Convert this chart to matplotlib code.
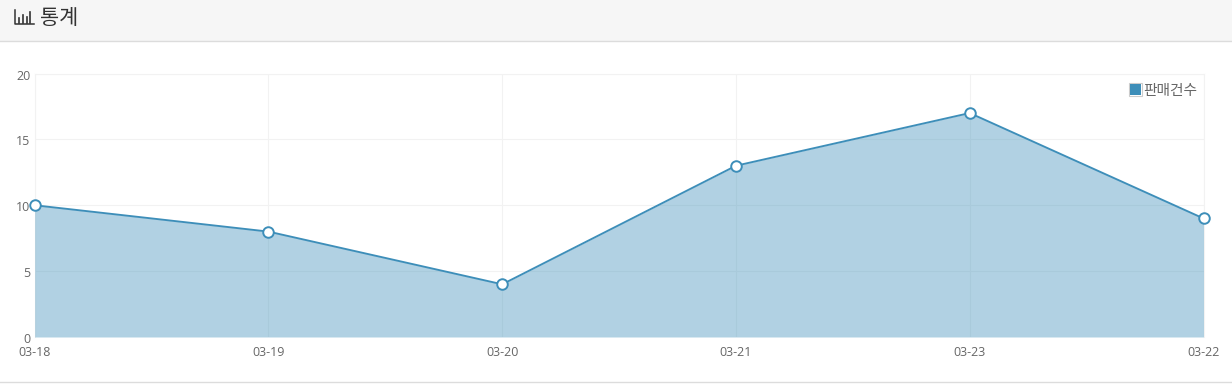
import matplotlib
matplotlib.use("Agg")
import matplotlib.pyplot as plt
from matplotlib.patches import Rectangle
from matplotlib.lines import Line2D
from matplotlib.transforms import ScaledTranslation

plt.rcParams['font.family'] = ['Noto Sans CJK KR', 'DejaVu Sans']

dates = ['03-18', '03-19', '03-20', '03-21', '03-23', '03-22']
sales = [10, 8, 4, 13, 17, 9]
y_ticks = [0, 5, 10, 15, 20]
title = '통계'
legend_label = '판매건수'

W, H = 1232, 384
line_color = '#3d8eb9'
text_color = '#666666'

fig = plt.figure(figsize=(W / 100, H / 100), dpi=100, facecolor='white')


# pixel -> figure fraction
def fx(px):
    return px / W


def fy(py):
    return 1 - py / H


# header band
fig.add_artist(Rectangle((0, fy(41)), 1, 41 / H, transform=fig.transFigure, fc='#f6f6f6', ec='none'))
fig.add_artist(Line2D([0, 1], [fy(41), fy(41)], color='#dcdcdc', lw=1))
fig.add_artist(Line2D([0, 1], [fy(382), fy(382)], color='#dcdcdc', lw=1))

# bar chart icon
fig.add_artist(Line2D([fx(14.5), fx(14.5), fx(34)], [fy(10), fy(24), fy(24)], color='#333333', lw=1.1))
for px, top in zip([19, 23, 26.5, 30], [18, 15, 17, 11.5]):
    fig.add_artist(Line2D([fx(px), fx(px)], [fy(22.5), fy(top)], color='#333333', lw=1.2))

fig.text(fx(40), fy(18.5), title, fontsize=15, color='#333333', ha='left', va='center')

# chart area
ax = fig.add_axes([fx(34.7), fy(337), (1203.5 - 34.7) / W, (337 - 73.5) / H])
x = list(range(len(dates)))
ax.fill_between(x, sales, 0, color=line_color, alpha=0.4, lw=0, zorder=3)
ax.plot(x, sales, color=line_color, lw=1.35, zorder=4, clip_on=False)
ax.plot(x, sales, ls='none', marker='o', ms=7.6, mfc='white', mec=line_color, mew=1.4, zorder=5, clip_on=False)

ax.set_xlim(0, len(dates) - 1)
ax.set_ylim(0, 20)
ax.set_xticks(x)
ax.set_xticklabels(dates)
ax.set_yticks(y_ticks)
ax.grid(True, color='#f2f2f2', lw=0.8, zorder=1)
ax.set_axisbelow(True)
ax.tick_params(length=0, labelsize=9, labelcolor=text_color)
ax.tick_params(axis='x', pad=6.5)
ax.tick_params(axis='y', pad=3)
for s in ax.spines.values():
    s.set_color('#f2f2f2')
    s.set_linewidth(0.8)
ax.spines['bottom'].set_visible(False)
for lab in ax.get_xticklabels() + ax.get_yticklabels():
    lab.set_family('Open Sans')
# y labels sit a little under their grid lines in the original
for lab in ax.get_yticklabels():
    lab.set_transform(lab.get_transform() + ScaledTranslation(0, -0.01, fig.dpi_scale_trans))

# legend
fig.add_artist(Rectangle((fx(1128.5), fy(96)), 13 / W, 13.5 / H, transform=fig.transFigure,
                         fc='white', ec='#cccccc', lw=0.8))
fig.add_artist(Rectangle((fx(1130), fy(94.5)), 10.5 / W, 10.5 / H, transform=fig.transFigure,
                         fc=line_color, ec='none'))
fig.text(fx(1143.5), fy(91), legend_label, fontsize=10.6, color=text_color, ha='left', va='center')

fig.savefig('out.png', dpi=100, facecolor='white')
